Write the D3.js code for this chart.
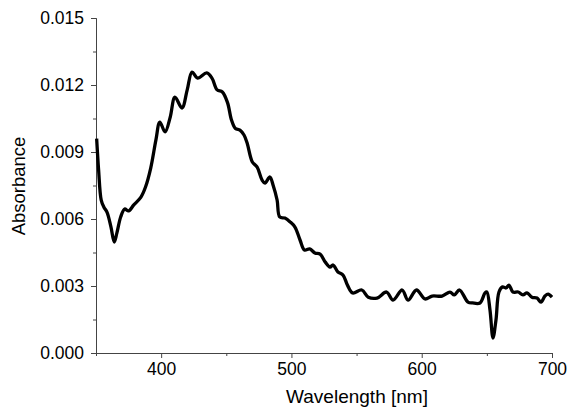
<!DOCTYPE html>
<html>
<head>
<meta charset="utf-8">
<script src="https://cdn.jsdelivr.net/npm/d3@7"></script>
<style>
  body { margin: 0; background: #fff; }
  text { font-family: Arial, "Liberation Sans", sans-serif; }
</style>
</head>
<body>
<div id="chart"></div>
<script>
var wavelength = [350.5, 352, 354, 356, 358.5, 361.5, 364, 366, 369, 372, 375, 379, 384.5, 388, 392, 396, 399,
  403, 407, 410.6, 416, 420, 423.7, 428, 435, 439, 443, 447, 451, 454, 457, 460.5, 463.6, 466, 470, 473.6,
  477.4, 479.7, 483.5, 486, 489, 491, 495, 499, 502.7, 506.6, 510, 514, 518, 522, 526, 529.6, 532, 535.7,
  539.6, 543, 547, 554, 559, 565.7, 573, 578, 585, 589.5, 596, 602.5, 608, 615.6, 621.7, 625, 629, 635.5,
  639, 644.7, 648.6, 650, 652.4, 654.7, 657, 659.3, 662, 664.7, 667, 670, 674, 677.7, 680.8, 684.6, 688.5,
  691.5, 694.6, 697, 700];
var absorbance = [0.0096, 0.0082, 0.00685, 0.00654, 0.0063, 0.00564, 0.00497, 0.00537, 0.0061, 0.00645,
  0.00636, 0.00663, 0.00698, 0.00743, 0.00828, 0.00954, 0.01034, 0.0099, 0.01057, 0.01146, 0.01097, 0.01178,
  0.01258, 0.01231, 0.01254, 0.01231, 0.01178, 0.01169, 0.0112, 0.01043, 0.01005, 0.00998, 0.00976, 0.0094,
  0.00855, 0.00833, 0.00775, 0.00761, 0.00788, 0.0075, 0.00685, 0.00609, 0.00604, 0.00587, 0.00564, 0.00506,
  0.00461, 0.00466, 0.00448, 0.00443, 0.00407, 0.00385, 0.00394, 0.00363, 0.00349, 0.00304, 0.00269,
  0.00282, 0.0025, 0.00246, 0.00273, 0.00237, 0.00282, 0.00237, 0.00282, 0.00242, 0.00255, 0.00255,
  0.00273, 0.0026, 0.00282, 0.00228, 0.00224, 0.00224, 0.00269, 0.00273, 0.00193, 0.00067, 0.00148,
  0.00273, 0.00296, 0.00291, 0.00304, 0.00273, 0.00273, 0.0026, 0.00269, 0.0025, 0.00246, 0.00228,
  0.00255, 0.00264, 0.0025];
var xTicks = [400, 500, 600, 700];
var xMinor = [350, 450, 550, 650];
var yTicks = [0, 0.003, 0.006, 0.009, 0.012, 0.015];
var yMinor = [0.0015, 0.0045, 0.0075, 0.0105, 0.0135];

var margin = { left: 96, right: 15, top: 18, bottom: 57 };
var W = 567, H = 410;
var width = W - margin.left - margin.right;
var height = H - margin.top - margin.bottom;

var svg = d3.select("#chart")
  .append("svg")
  .attr("width", W)
  .attr("height", H);

var g = svg.append("g")
  .attr("transform", "translate(" + margin.left + ", " + margin.top + ")");

var x = d3.scaleLinear().domain([350, 700]).range([0, width]);
var y = d3.scaleLinear().domain([0, 0.015]).range([height, 0]);

// minor ticks
g.append("g")
  .attr("transform", "translate(0, " + height + ")")
  .call(d3.axisBottom(x).tickValues(xMinor).tickSize(3).tickFormat(""));
g.append("g")
  .call(d3.axisLeft(y).tickValues(yMinor).tickSize(3).tickFormat(""));

// X-Axis
g.append("g")
  .attr("class", "x axis")
  .attr("transform", "translate(0, " + height + ")")
  .call(d3.axisBottom(x).tickValues(xTicks).tickSize(5).tickPadding(5).tickSizeOuter(0))
  .selectAll("text")
  .attr("font-size", "17.5px")
  .attr("fill", "#000");

// Y-Axis
g.append("g")
  .attr("class", "y axis")
  .call(d3.axisLeft(y).tickValues(yTicks).tickSize(5).tickPadding(7).tickSizeOuter(0)
    .tickFormat(d3.format(".3f")))
  .selectAll("text")
  .attr("font-size", "17.5px")
  .attr("fill", "#000");

g.selectAll(".domain, .tick line").attr("stroke", "#444");

// curve
var pts = wavelength.map(function (w, i) { return [w, absorbance[i]]; });
var line = d3.line()
  .x(function (d) { return x(d[0]); })
  .y(function (d) { return y(d[1]); })
  .curve(d3.curveCatmullRom.alpha(0.5));

g.append("path")
  .datum(pts)
  .attr("d", line)
  .attr("fill", "none")
  .attr("stroke", "#000")
  .attr("stroke-width", 3.3)
  .attr("stroke-linejoin", "round");

// labels
svg.append("text")
  .attr("x", 357)
  .attr("y", 403)
  .attr("font-size", "19px")
  .attr("text-anchor", "middle")
  .text("Wavelength [nm]");

svg.append("text")
  .attr("transform", "translate(25, 186) rotate(-90)")
  .attr("font-size", "18.5px")
  .attr("text-anchor", "middle")
  .text("Absorbance");
</script>
</body>
</html>
